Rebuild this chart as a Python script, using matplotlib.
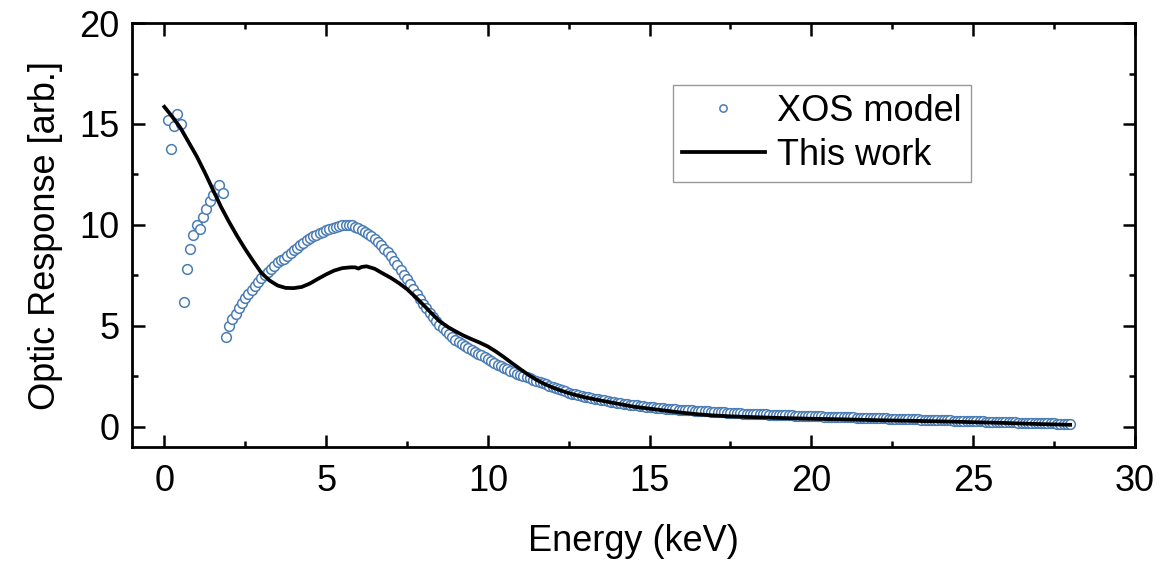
import numpy as np
import matplotlib
matplotlib.use("Agg")
import matplotlib.pyplot as plt

plt.rcParams['font.family'] = ['Liberation Sans', 'DejaVu Sans']

# XOS model, sampled every 0.1 keV from 0.1 to 28.0 keV
xos_energy = np.round(np.arange(1, 281) * 0.1, 1)
xos_response = [
    15.2, 13.75, 14.9, 15.5, 15.0, 6.2, 7.8, 8.8, 9.5, 10.0,
    9.8, 10.4, 10.8, 11.2, 11.5, 11.8, 12.0, 11.6, 4.45, 5.0,
    5.32, 5.6, 5.9, 6.15, 6.37, 6.57, 6.77, 6.98, 7.17, 7.35,
    7.5, 7.65, 7.8, 7.95, 8.18, 8.28, 8.3, 8.45, 8.6, 8.75,
    8.88, 9.0, 9.12, 9.23, 9.33, 9.43, 9.52, 9.6, 9.67, 9.74,
    9.8, 9.86, 9.92, 9.97, 10.0, 10.02, 10.02, 9.98, 9.92, 9.85,
    9.76, 9.66, 9.55, 9.43, 9.3, 9.15, 9.0, 8.83, 8.64, 8.44,
    8.22, 8.0, 7.77, 7.53, 7.3, 7.06, 6.82, 6.58, 6.34, 6.1,
    5.88, 5.66, 5.45, 5.25, 5.06, 4.89, 4.73, 4.58, 4.44, 4.31,
    4.19, 4.08, 3.98, 3.88, 3.79, 3.7, 3.62, 3.54, 3.46, 3.38,
    3.26, 3.17, 3.08, 3.0, 2.92, 2.85, 2.78, 2.71, 2.64, 2.58,
    2.52, 2.46, 2.4, 2.34, 2.28, 2.22, 2.16, 2.1, 2.04, 1.98,
    1.92, 1.86, 1.8, 1.75, 1.7, 1.65, 1.61, 1.57, 1.53, 1.49,
    1.46, 1.43, 1.4, 1.37, 1.34, 1.31, 1.28, 1.25, 1.22, 1.19,
    1.16, 1.14, 1.12, 1.1, 1.08, 1.06, 1.04, 1.02, 1.0, 0.98,
    0.96, 0.95, 0.93, 0.92, 0.9, 0.89, 0.87, 0.86, 0.85, 0.84,
    0.83, 0.82, 0.81, 0.8, 0.79, 0.78, 0.77, 0.76, 0.75, 0.74,
    0.73, 0.72, 0.71, 0.7, 0.7, 0.69, 0.68, 0.67, 0.66, 0.66,
    0.65, 0.64, 0.64, 0.63, 0.62, 0.62, 0.61, 0.6, 0.6, 0.59,
    0.58, 0.58, 0.57, 0.57, 0.56, 0.55, 0.55, 0.54, 0.54, 0.53,
    0.53, 0.52, 0.52, 0.51, 0.51, 0.5, 0.5, 0.49, 0.49, 0.48,
    0.48, 0.47, 0.47, 0.46, 0.46, 0.45, 0.45, 0.44, 0.44, 0.43,
    0.43, 0.42, 0.42, 0.41, 0.41, 0.4, 0.4, 0.39, 0.39, 0.38,
    0.38, 0.37, 0.37, 0.36, 0.36, 0.35, 0.35, 0.34, 0.34, 0.33,
    0.33, 0.32, 0.32, 0.31, 0.31, 0.3, 0.3, 0.29, 0.29, 0.28,
    0.28, 0.27, 0.27, 0.26, 0.26, 0.25, 0.25, 0.24, 0.24, 0.23,
    0.23, 0.22, 0.22, 0.21, 0.21, 0.2, 0.2, 0.19, 0.19, 0.18,
    0.18, 0.18, 0.17, 0.17, 0.17, 0.16, 0.16, 0.16, 0.15, 0.15,
]

# This work (fitted response curve)
fit_energy = [
    0.0, 0.25, 0.5, 0.75, 1.0, 1.25, 1.5, 1.75, 2.0, 2.25,
    2.5, 2.75, 3.0, 3.25, 3.5, 3.75, 4.0, 4.25, 4.5, 4.75,
    5.0, 5.25, 5.5, 5.75, 5.9, 6.0, 6.1, 6.25, 6.5, 6.75,
    7.0, 7.25, 7.5, 7.75, 8.0, 8.25, 8.5, 8.75, 9.0, 9.25,
    9.5, 9.75, 10.0, 10.25, 10.5, 10.75, 11.0, 11.25, 11.5, 11.75,
    12.0, 12.25, 12.5, 12.75, 13.0, 13.5, 14.0, 14.5, 15.0, 15.5,
    16.0, 16.5, 17.0, 17.5, 18.0, 19.0, 20.0, 21.0, 22.0, 23.0,
    24.0, 25.0, 26.0, 27.0, 28.0,
]
fit_response = [
    15.85, 15.35, 14.8, 14.1, 13.4, 12.6, 11.75, 10.9, 10.15, 9.45,
    8.8, 8.2, 7.62, 7.25, 7.0, 6.88, 6.87, 6.93, 7.1, 7.33,
    7.55, 7.74, 7.86, 7.9, 7.9, 7.84, 7.92, 7.95, 7.83, 7.6,
    7.38, 7.12, 6.82, 6.45, 6.05, 5.64, 5.24, 4.96, 4.73, 4.52,
    4.34, 4.17, 3.98, 3.73, 3.45, 3.15, 2.86, 2.58, 2.33, 2.12,
    1.95, 1.8, 1.67, 1.56, 1.46, 1.3, 1.15, 1.0, 0.9, 0.8,
    0.7, 0.62, 0.56, 0.52, 0.49, 0.44, 0.4, 0.37, 0.33, 0.3,
    0.27, 0.23, 0.19, 0.14, 0.1,
]

fig = plt.figure(figsize=(11.6, 5.62), dpi=100)
ax = fig.add_axes([0.1138, 0.2046, 0.8645, 0.7544])

ax.plot(xos_energy, xos_response, 'o', ms=7, mfc='white', mec='#4a7cb5',
        mew=1.1, label='XOS model')
ax.plot(fit_energy, fit_response, '-', color='black', lw=2.7, label='This work')

ax.set_xlim(-1, 30)
ax.set_ylim(-1, 20)
ax.set_xticks([0, 5, 10, 15, 20, 25, 30])
ax.set_xticks(np.arange(2.5, 30, 5), minor=True)
ax.set_yticks([0, 5, 10, 15, 20])
ax.set_yticks(np.arange(2.5, 20, 5), minor=True)

ax.tick_params(which='both', direction='in', top=True, right=True,
               width=1.8, labelsize=26)
ax.tick_params(which='major', length=9)
ax.tick_params(which='minor', length=4.5)
ax.tick_params(axis='x', which='major', pad=12)
ax.tick_params(axis='y', which='major', pad=9)
for s in ax.spines.values():
    s.set_linewidth(2)

ax.set_xlabel('Energy (keV)', fontsize=26, labelpad=18)
ax.set_ylabel('Optic Response [arb.]', fontsize=26, labelpad=12)

leg = ax.legend(loc='upper left', bbox_to_anchor=(0.539, 0.854),
                borderaxespad=0, fontsize=26, frameon=True, fancybox=False,
                handlelength=2.3, handletextpad=0.35, borderpad=0.25,
                labelspacing=0.25, markerscale=0.75)
leg.get_frame().set_edgecolor('#808080')
leg.get_frame().set_linewidth(1.0)

fig.savefig('out.png', dpi=100)
